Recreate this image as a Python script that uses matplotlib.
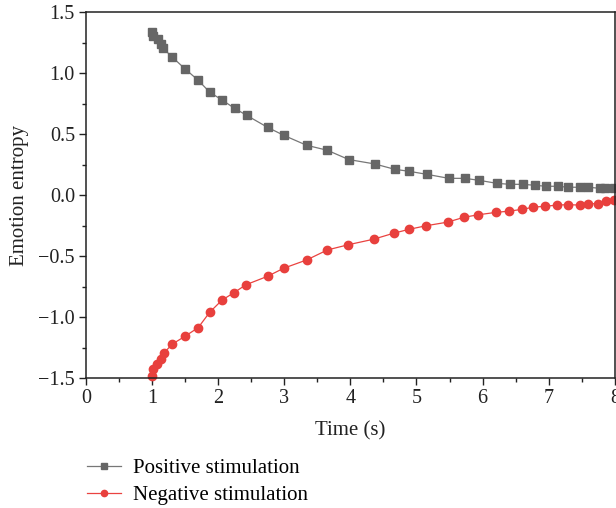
import matplotlib
matplotlib.use("Agg")
import matplotlib.pyplot as plt
from matplotlib.ticker import MultipleLocator

plt.rcParams['font.family'] = ['Liberation Serif', 'DejaVu Serif']

pos_t = [1.005, 1.02, 1.096, 1.136, 1.167, 1.308, 1.505, 1.697, 1.874, 2.065, 2.247,
         2.429, 2.747, 2.99, 3.338, 3.652, 3.975, 4.368, 4.671, 4.884, 5.156, 5.489,
         5.732, 5.944, 6.217, 6.414, 6.61, 6.79, 6.96, 7.14, 7.29, 7.47, 7.60, 7.78,
         7.85, 7.99]
pos_v = [1.336, 1.308, 1.279, 1.238, 1.205, 1.131, 1.033, 0.943, 0.844, 0.779, 0.713,
         0.656, 0.557, 0.492, 0.41, 0.369, 0.293, 0.257, 0.213, 0.197, 0.172, 0.139,
         0.139, 0.123, 0.098, 0.090, 0.090, 0.082, 0.074, 0.074, 0.066, 0.066, 0.066,
         0.057, 0.057, 0.057]

neg_t = [1.005, 1.02, 1.08, 1.136, 1.177, 1.308, 1.505, 1.697, 1.874, 2.06, 2.24,
         2.42, 2.747, 2.99, 3.338, 3.652, 3.97, 4.35, 4.66, 4.88, 5.14, 5.47, 5.72,
         5.93, 6.20, 6.40, 6.60, 6.77, 6.95, 7.13, 7.29, 7.47, 7.60, 7.75, 7.86, 7.99]
neg_v = [-1.48, -1.426, -1.385, -1.344, -1.293, -1.219, -1.153, -1.085, -0.957, -0.858,
         -0.798, -0.733, -0.664, -0.598, -0.530, -0.448, -0.405, -0.36, -0.31, -0.28,
         -0.25, -0.22, -0.18, -0.16, -0.14, -0.13, -0.115, -0.097, -0.09, -0.08, -0.077,
         -0.08, -0.069, -0.069, -0.044, -0.036]

fig = plt.figure(figsize=(6.16, 5.08), dpi=100)
ax = fig.add_axes([0.1396, 0.2553, 0.8584, 0.7205])

l1, = ax.plot(pos_t, pos_v, color='#777777', lw=0.9, marker='s', ms=5.4,
              mfc='#666666', mec='#666666', label='Positive stimulation', clip_on=False)
l2, = ax.plot(neg_t, neg_v, color='#ea4340', lw=0.9, marker='o', ms=6.0,
              mfc='#e8403d', mec='#e8403d', label='Negative stimulation', clip_on=False)

ax.set_xlim(0, 8)
ax.set_ylim(-1.5, 1.5)
ax.xaxis.set_major_locator(MultipleLocator(1))
ax.xaxis.set_minor_locator(MultipleLocator(0.5))
ax.yaxis.set_minor_locator(MultipleLocator(0.25))
ax.set_yticks([-1.5, -1.0, -0.5, 0.0, 0.5, 1.0, 1.5])
ax.set_yticklabels(['\u22121.5', '\u22121.0', '\u22120.5', '0.0', '0.5', '1.0', '1.5'])
ax.tick_params(which='major', direction='out', length=5, width=1, labelsize=14.5,
               colors='#222222', pad=3)
ax.tick_params(which='minor', direction='out', length=3, width=1, colors='#222222')
ax.tick_params(axis='both', which='both', top=False, right=False)
for s in ax.spines.values():
    s.set_linewidth(1.1)
    s.set_color('#222222')

ax.set_xlabel('Time (s)', fontsize=15, color='#222222', labelpad=9)
ax.set_ylabel('Emotion entropy', fontsize=15, color='#222222', labelpad=7)

leg = fig.legend(handles=[l1, l2], loc='center left', bbox_to_anchor=(0.141, 0.052),
                 bbox_transform=fig.transFigure, frameon=False, fontsize=15,
                 borderpad=0, borderaxespad=0,
                 handlelength=1.65, handletextpad=0.55, labelspacing=0.35, markerscale=0.75)

fig.savefig('out.png', dpi=100)
